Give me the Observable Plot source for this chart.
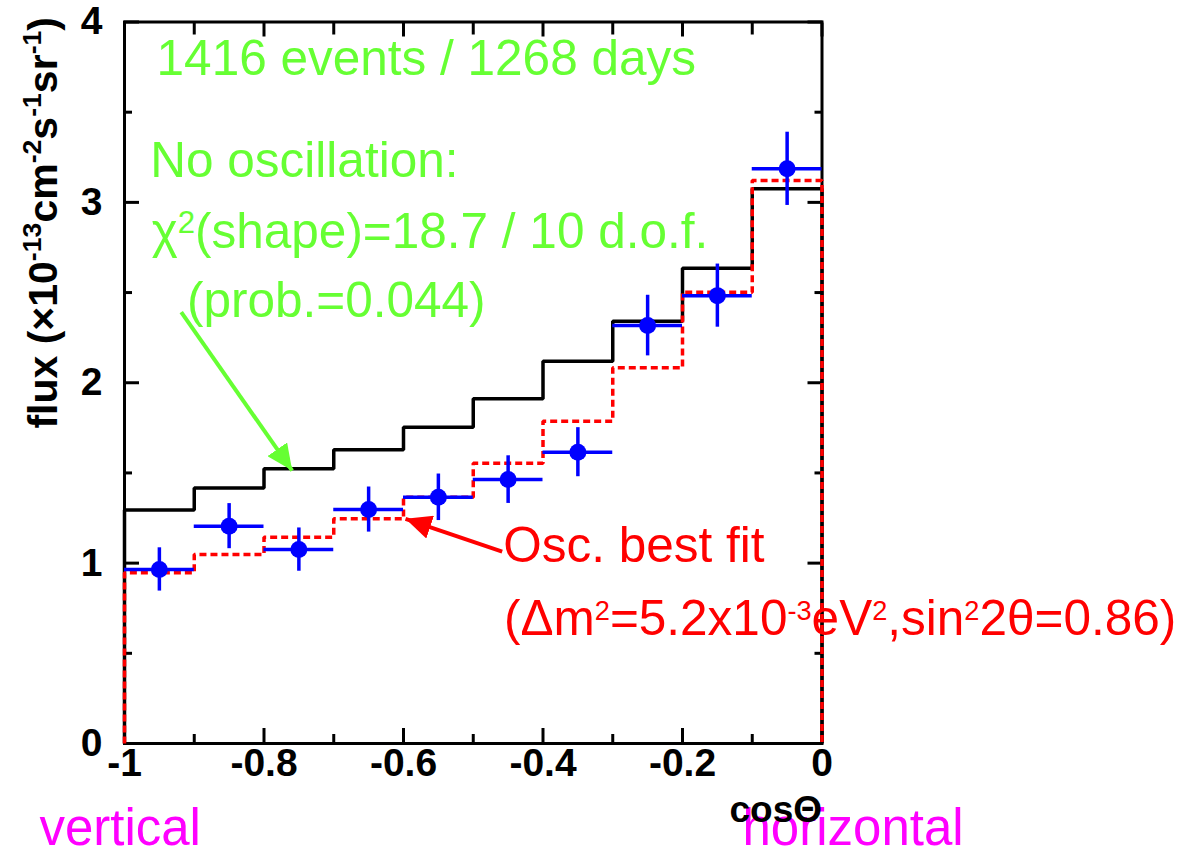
<!DOCTYPE html>
<html><head><meta charset="utf-8">
<script src="https://cdn.jsdelivr.net/npm/d3@7"></script>
<script src="https://cdn.jsdelivr.net/npm/@observablehq/plot@0.6"></script>
<style>html,body{margin:0;padding:0;background:#fff;} svg{display:block;}</style>
</head><body><div id="chart"></div>
<script>
// ---- data ----
const binEdges = [-1, -0.9, -0.8, -0.7, -0.6, -0.5, -0.4, -0.3, -0.2, -0.1, 0];
const noOscillation = [1.295, 1.417, 1.523, 1.628, 1.753, 1.911, 2.119, 2.341, 2.635, 3.075];
const oscBestFit    = [0.946, 1.048, 1.144, 1.246, 1.365, 1.554, 1.787, 2.083, 2.502, 3.121];
const dataFlux      = [0.965, 1.205, 1.075, 1.297, 1.365, 1.463, 1.615, 2.317, 2.483, 3.186];
const dataError     = [0.120, 0.125, 0.120, 0.125, 0.129, 0.132, 0.136, 0.168, 0.175, 0.203];

const xMajorTicks = [-1, -0.8, -0.6, -0.4, -0.2, 0];
const xMinorTicks = [-0.9, -0.7, -0.5, -0.3, -0.1];
const xTickLabels = ["-1", "-0.8", "-0.6", "-0.4", "-0.2", "0"];
const yMajorTicks = [0, 1, 2, 3, 4];
const yMinorTicks = [0.5, 1.5, 2.5, 3.5];
const yTickLabels = ["0", "1", "2", "3", "4"];

const greenNotes = [
  {x: -0.954, y: 3.708, text: "1416 events / 1268 days"},
  {x: -0.963, y: 3.139, text: "No oscillation:"},
  {x: -0.961, y: 2.748, text: "χ^{2}(shape)=18.7 / 10 d.o.f."},
  {x: -0.9105, y: 2.367, text: "(prob.=0.044)"}
];
const redNotes = [
  {x: -0.457, y: 1.009, text: "Osc. best fit"},
  {x: -0.456, y: 0.604, text: "(Δm^{2}=5.2x10^{-3}eV^{2},sin^{2}2θ=0.86)"}
];
const magentaNotes = [
  {x: -1.122, y: -0.565, text: "vertical"},
  {x: -0.114, y: -0.565, text: "horizontal"}
];
const xTitle = [{x: 0, y: -0.436, text: "cosΘ"}];
const yTitle = ["flux (×10^{-13}cm^{-2}s^{-1}sr^{-1})"];
const greenArrow = [{x1: -0.9187, y1: 2.391, x2: -0.7596, y2: 1.513}];
const redArrow   = [{x1: -0.4585, y1: 1.064, x2: -0.5971, y2: 1.2456}];

// ---- styles ----
const GREEN = "#66ff33", RED = "#ff0000", BLUE = "#0000ff", MAGENTA = "#ff00ff";

// ---- derived tables ----
function steps(values) {
  const pts = [{x: binEdges[0], y: 0}];
  values.forEach((v, i) => { pts.push({x: binEdges[i], y: v}); pts.push({x: binEdges[i + 1], y: v}); });
  pts.push({x: binEdges[binEdges.length - 1], y: 0});
  return pts;
}
const points = dataFlux.map((v, i) => ({
  lo: binEdges[i], hi: binEdges[i + 1], c: (binEdges[i] + binEdges[i + 1]) / 2,
  v, ylo: v - dataError[i], yhi: v + dataError[i]
}));
const labelOf = (ticks, labels) => d => labels[ticks.findIndex(t => Math.abs(t - d) < 1e-9)];

const plot = Plot.plot({
  width: 1186, height: 853,
  marginLeft: 124, marginRight: 364.5, marginTop: 21.5, marginBottom: 110,
  x: {domain: [-1, 0]},
  y: {domain: [0, 4]},
  style: {fontFamily: "'Liberation Sans', Arial, Helvetica, sans-serif", background: "white", overflow: "visible"},
  marks: [
    Plot.frame({stroke: "black", strokeWidth: 3}),
    // inward ticks (ROOT style)
    Plot.axisX(xMajorTicks, {anchor: "bottom", tickSize: 15, dy: -15, fill: "none", strokeWidth: 3, label: null}),
    Plot.axisX(xMinorTicks, {anchor: "bottom", tickSize: 9, dy: -9, fill: "none", strokeWidth: 3, label: null}),
    Plot.axisX(xMajorTicks, {anchor: "top", tickSize: 14, dy: 14, fill: "none", strokeWidth: 3, label: null}),
    Plot.axisX(xMinorTicks, {anchor: "top", tickSize: 12, dy: 12, fill: "none", strokeWidth: 3, label: null}),
    Plot.axisY(yMajorTicks, {anchor: "left", tickSize: 15, dx: 15, fill: "none", strokeWidth: 3, label: null}),
    Plot.axisY(yMinorTicks, {anchor: "left", tickSize: 8, dx: 8, fill: "none", strokeWidth: 3, label: null}),
    Plot.axisY(yMajorTicks, {anchor: "right", tickSize: 15, dx: -15, fill: "none", strokeWidth: 3, label: null}),
    Plot.axisY(yMinorTicks, {anchor: "right", tickSize: 8, dx: -8, fill: "none", strokeWidth: 3, label: null}),
    // tick labels
    Plot.axisX(xMajorTicks, {anchor: "bottom", tickSize: 0, tickPadding: 5, tickFormat: labelOf(xMajorTicks, xTickLabels),
      fontSize: 39, fontWeight: "bold", fill: "black", label: null}),
    Plot.axisY(yMajorTicks, {anchor: "left", tickSize: 0, tickPadding: 22, tickFormat: labelOf(yMajorTicks, yTickLabels),
      fontSize: 39, fontWeight: "bold", fill: "black", label: null}),
    // histograms
    Plot.line(steps(noOscillation), {x: "x", y: "y", stroke: "black", strokeWidth: 3.5, strokeLinejoin: "miter", strokeLinecap: "butt"}),
    Plot.line(steps(oscBestFit), {x: "x", y: "y", stroke: RED, strokeWidth: 3.5, strokeDasharray: "7,4", strokeLinejoin: "miter", strokeLinecap: "butt"}),
    // data points
    Plot.ruleY(points, {y: "v", x1: "lo", x2: "hi", stroke: BLUE, strokeWidth: 3.5}),
    Plot.ruleX(points, {x: "c", y1: "ylo", y2: "yhi", stroke: BLUE, strokeWidth: 3.5}),
    Plot.dot(points, {x: "c", y: "v", r: 8.5, fill: BLUE, stroke: null}),
    // arrows
    Plot.link(greenArrow, {x1: "x1", y1: "y1", x2: "x2", y2: "y2", stroke: GREEN, strokeWidth: 4, strokeLinecap: "butt"}),
    Plot.link(redArrow, {x1: "x1", y1: "y1", x2: "x2", y2: "y2", stroke: RED, strokeWidth: 4, strokeLinecap: "butt"}),
    // annotations
    Plot.text(greenNotes, {x: "x", y: "y", text: "text", textAnchor: "start", lineAnchor: "bottom", fill: GREEN, fontSize: 49.5}),
    Plot.text(redNotes, {x: "x", y: "y", text: "text", textAnchor: "start", lineAnchor: "bottom", fill: RED, fontSize: 49.5}),
    Plot.text(magentaNotes, {x: "x", y: "y", text: "text", textAnchor: "start", lineAnchor: "bottom", fill: MAGENTA, fontSize: 51}),
    Plot.text(xTitle, {x: "x", y: "y", text: "text", textAnchor: "end", lineAnchor: "bottom", fill: "black", fontSize: 37, fontWeight: "bold"}),
    Plot.text(yTitle, {text: d => d, frameAnchor: "top-left", rotate: -90, textAnchor: "end", lineAnchor: "bottom",
      dx: -68, dy: -5, fill: "black", fontSize: 41, fontWeight: "bold"})
  ]
});

// ---- superscripts ----
const NS = "http://www.w3.org/2000/svg";
const supStyle = {[GREEN]: {scale: 0.63, raise: 0.30}, [RED]: {scale: 0.55, raise: 0.30}, black: {scale: 0.65, raise: 0.38}};
plot.querySelectorAll("text").forEach(el => {
  const raw = el.textContent;
  if (!raw.includes("^{")) return;
  const fs = parseFloat(el.closest("[font-size]").getAttribute("font-size"));
  const col = el.closest("[fill]").getAttribute("fill");
  const st = supStyle[col] || supStyle.black;
  el.textContent = "";
  const parts = raw.split(/\^\{([^}]*)\}/);
  let shifted = false;
  parts.forEach((p, i) => {
    if (p === "" && i % 2 === 0 && !shifted) return;
    const t = document.createElementNS(NS, "tspan");
    t.textContent = p === "" ? "\u200b" : p;
    if (i % 2 === 1) { t.setAttribute("font-size", st.scale * fs); t.setAttribute("dy", -st.raise * fs); shifted = true; }
    else if (shifted) { t.setAttribute("dy", st.raise * fs); shifted = false; }
    el.appendChild(t);
  });
});

// ---- filled arrowheads ----
const defs = document.createElementNS(NS, "defs");
[["head-green", GREEN], ["head-red", RED]].forEach(([id, color]) => {
  const m = document.createElementNS(NS, "marker");
  m.setAttribute("id", id);
  m.setAttribute("viewBox", "0 -12 26 24");
  m.setAttribute("refX", 26); m.setAttribute("refY", 0);
  m.setAttribute("markerWidth", 26); m.setAttribute("markerHeight", 24);
  m.setAttribute("markerUnits", "userSpaceOnUse");
  m.setAttribute("orient", "auto");
  const p = document.createElementNS(NS, "path");
  p.setAttribute("d", "M0,-12L26,0L0,12Z");
  p.setAttribute("fill", color);
  p.setAttribute("stroke", "none");
  m.appendChild(p);
  defs.appendChild(m);
});
plot.insertBefore(defs, plot.firstChild);
plot.querySelectorAll('g[aria-label="link"]').forEach(g => {
  const s = g.getAttribute("stroke");
  const id = s === GREEN ? "head-green" : "head-red";
  g.querySelectorAll("path").forEach(p => p.setAttribute("marker-end", `url(#${id})`));
});

document.getElementById("chart").appendChild(plot);
</script>
</body></html>
